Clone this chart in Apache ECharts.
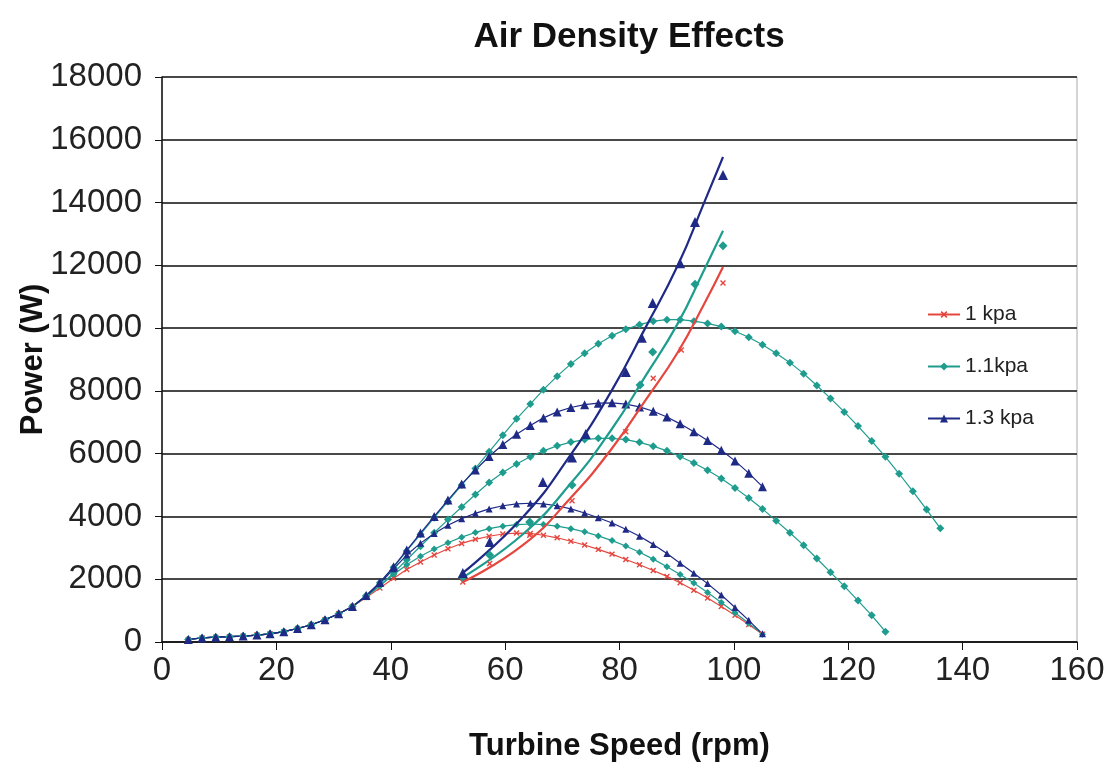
<!DOCTYPE html>
<html>
<head>
<meta charset="utf-8">
<script src="https://cdn.jsdelivr.net/npm/echarts@6/dist/echarts.min.js"></script>
<style>
  html, body { margin: 0; padding: 0; background: #fff; }
  #chart { width: 1109px; height: 774px; }
</style>
</head>
<body>
<div id="chart"></div>
<script>
// turbine speed of each marker (rpm), shared by all curves
const speeds = [4.6, 7.0, 9.4, 11.8, 14.2, 16.6, 18.9, 21.3, 23.7, 26.1, 28.5, 30.9, 33.3,
  35.7, 38.1, 40.5, 42.8, 45.2, 47.6, 50.0, 52.4, 54.8, 57.2, 59.6, 62.0, 64.4, 66.7,
  69.1, 71.5, 73.9, 76.3, 78.7, 81.1, 83.5, 85.9, 88.3, 90.6, 93.0, 95.4, 97.8, 100.2,
  102.6, 105.0, 107.4, 109.8, 112.2, 114.5, 116.9, 119.3, 121.7, 124.1, 126.5, 128.9,
  131.3, 133.7, 136.1]

// low speed part, all curves lie on top of each other here
const lowPower = [80, 130, 155, 170, 190, 220, 260, 330, 430, 550, 710, 900, 1130]

// the rest of each curve (from 35.7 rpm on)
const red1 = [1420, 1720, 2030, 2310, 2550, 2770, 2970, 3140, 3270, 3370, 3440, 3470, 3460,
  3400, 3320, 3210, 3090, 2950, 2800, 2630, 2460, 2280, 2090, 1890, 1650, 1400, 1130, 850, 560, 250]
const teal1 = [1440, 1790, 2150, 2460, 2730, 2960, 3160, 3340, 3490, 3610, 3690, 3740, 3760,
  3740, 3690, 3610, 3510, 3380, 3230, 3060, 2860, 2640, 2400, 2150, 1880, 1580, 1260, 930, 600, 250]
const teal2 = [1450, 1800, 2200, 2620, 3050, 3480, 3900, 4300, 4700, 5080, 5400, 5670, 5900,
  6090, 6250, 6370, 6450, 6490, 6490, 6450, 6360, 6240, 6090, 5910, 5700, 5470, 5210, 4910,
  4590, 4240, 3860, 3480, 3080, 2660, 2220, 1780, 1320, 850, 330]
const teal3 = [1480, 1890, 2380, 2900, 3430, 3960, 4480, 5000, 5530, 6060, 6590, 7110, 7580,
  8040, 8470, 8860, 9200, 9500, 9760, 9960, 10110, 10220, 10270, 10270, 10220, 10150, 10050,
  9900, 9710, 9470, 9200, 8900, 8550, 8170, 7760, 7330, 6880, 6400, 5900, 5360, 4800, 4220, 3620]
const blue1 = [1460, 1860, 2330, 2770, 3150, 3460, 3720, 3930, 4100, 4240, 4340, 4400, 4420,
  4400, 4340, 4240, 4110, 3960, 3790, 3590, 3370, 3110, 2820, 2510, 2190, 1860, 1500, 1100, 690, 260]
const blue2 = [1480, 1900, 2400, 2930, 3470, 4000, 4520, 5030, 5480, 5910, 6290, 6620, 6900,
  7140, 7330, 7470, 7560, 7610, 7620, 7580, 7490, 7350, 7170, 6950, 6700, 6420, 6110, 5770, 5380, 4950]

// rising trend lines
const riseSpeeds = [52.6, 63.2, 71.6, 78.6, 84.5, 90.2, 94.8, 98.1]
const riseRed = [1910, 3100, 4620, 6150, 7690, 9230, 10770, 11950]
const riseTeal = [2060, 3450, 5080, 6770, 8460, 10150, 11850, 13100]
const riseBlue = [2200, 4000, 6000, 8000, 10000, 12000, 14000, 15450]

// markers around the trend lines
const redMarkSpeed = [52.6, 57.3, 64.3, 71.7, 81.1, 85.9, 90.8, 98.1]
const redMarkPower = [1910, 2500, 3400, 4500, 6700, 8400, 9300, 11440]
const tealMarkSpeed = [52.6, 57.3, 64.3, 71.7, 83.6, 85.8, 93.2, 98.1]
const tealMarkPower = [2070, 2770, 3820, 5000, 8190, 9240, 11400, 12620]
const blueMarkSpeed = [52.6, 57.3, 66.6, 71.7, 74.1, 81.1, 83.9, 85.8, 90.6, 93.2, 98.1]
const blueMarkPower = [2200, 3185, 5100, 5880, 6630, 8600, 9690, 10800, 12070, 13380, 14880]

const RED = '#e5463e'
const TEAL = '#1e9c8e'
const BLUE = '#1f2a86'
const FONT = '"Liberation Sans", Arial, sans-serif'
const CROSS = 'path://M4,0H6V4H10V6H6V10H4V6H0V4H4Z'

function curve (rest) {
  return lowPower.concat(rest).map((p, i) => [speeds[i], p])
}
function pairs (xs, ys) {
  return xs.map((x, i) => [x, ys[i]])
}

function bell (name, rest, color, symbol, size, rotate) {
  return {
    name: name,
    type: 'line',
    data: curve(rest),
    symbol: symbol,
    symbolSize: size,
    symbolRotate: rotate || 0,
    showAllSymbol: true,
    lineStyle: { color: color, width: 1.2 },
    itemStyle: { color: color },
    z: 3
  }
}
function trend (name, ys, color) {
  return {
    name: name,
    type: 'line',
    data: pairs(riseSpeeds, ys),
    smooth: true,
    showSymbol: false,
    lineStyle: { color: color, width: 2.2 },
    itemStyle: { color: color },
    z: 4
  }
}
function marks (name, xs, ys, color, symbol, size, rotate) {
  return {
    name: name,
    type: 'scatter',
    data: pairs(xs, ys),
    symbol: symbol,
    symbolSize: size,
    symbolRotate: rotate || 0,
    itemStyle: { color: color, opacity: 1 },
    z: 5
  }
}

let chart = echarts.init(document.getElementById('chart'))
chart.setOption({
  animation: false,
  backgroundColor: '#fff',
  title: {
    text: 'Air Density Effects',
    left: 624,
    top: 15,
    textAlign: 'center',
    textStyle: { fontFamily: FONT, fontSize: 35, fontWeight: 'bold', color: '#111' }
  },
  legend: {
    orient: 'vertical',
    left: 922,
    top: 299,
    itemWidth: 32,
    itemHeight: 10,
    itemGap: 31,
    data: ['1 kpa', '1.1kpa', '1.3 kpa'],
    textStyle: { fontFamily: FONT, fontSize: 21, color: '#222' }
  },
  grid: {
    left: 162, right: 32, top: 77, bottom: 132,
    outerBoundsMode: 'none',
    show: true, borderColor: '#aaa', borderWidth: 1
  },
  xAxis: {
    type: 'value',
    min: 0,
    max: 160,
    interval: 20,
    name: 'Turbine Speed (rpm)',
    nameLocation: 'middle',
    nameGap: 89,
    nameMoveOverlap: false,
    nameTextStyle: { fontFamily: FONT, fontSize: 31, fontWeight: 'bold', color: '#111' },
    axisLine: { lineStyle: { color: '#111', width: 1.5 } },
    axisTick: { show: true, length: 8, lineStyle: { color: '#111' } },
    axisLabel: { fontFamily: FONT, fontSize: 33, color: '#222', margin: 12 },
    splitLine: { show: false }
  },
  yAxis: {
    type: 'value',
    min: 0,
    max: 18000,
    interval: 2000,
    name: 'Power (W)',
    nameLocation: 'middle',
    nameGap: 113,
    nameMoveOverlap: false,
    nameTextStyle: { fontFamily: FONT, fontSize: 31, fontWeight: 'bold', color: '#111' },
    axisLine: { show: true, lineStyle: { color: '#111', width: 1.5 } },
    axisTick: { show: true, length: 7, lineStyle: { color: '#111' } },
    axisLabel: { fontFamily: FONT, fontSize: 33, color: '#222', margin: 20, formatter: (v) => String(v) },
    splitLine: { show: true, lineStyle: { color: '#484848', width: 2 } }
  },
  series: [
    bell('1 kpa', red1, RED, CROSS, 7, 45),
    trend('1 kpa', riseRed, RED),
    marks('1 kpa', redMarkSpeed, redMarkPower, RED, CROSS, 7, 45),
    bell('1.1kpa', teal1, TEAL, 'diamond', 7),
    bell('1.1kpa', teal2, TEAL, 'diamond', 8),
    bell('1.1kpa', teal3, TEAL, 'diamond', 8),
    trend('1.1kpa', riseTeal, TEAL),
    marks('1.1kpa', tealMarkSpeed, tealMarkPower, TEAL, 'diamond', 9),
    bell('1.3 kpa', blue1, BLUE, 'triangle', 7),
    bell('1.3 kpa', blue2, BLUE, 'triangle', 9),
    trend('1.3 kpa', riseBlue, BLUE),
    marks('1.3 kpa', blueMarkSpeed, blueMarkPower, BLUE, 'triangle', 10)
  ]
})
</script>
</body>
</html>
